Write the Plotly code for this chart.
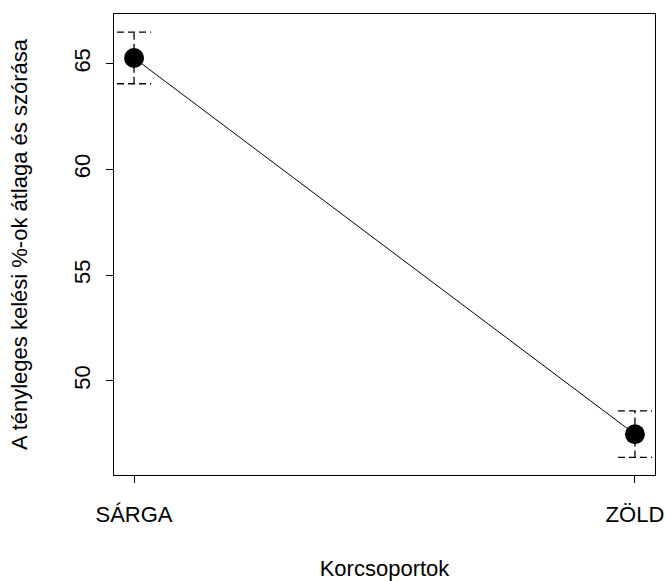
import plotly.graph_objects as go

categories = ["SÁRGA", "ZÖLD"]
means = [65.27, 47.47]
sds = [1.22, 1.10]
y_ticks = [50, 55, 60, 65]

x_pos = list(range(1, len(categories) + 1))
cap_half = 0.034
font_family = "Liberation Sans, Arial, sans-serif"
fs = 22

fig = go.Figure()

# error bars (dashed) built from the data
for xi, m, s in zip(x_pos, means, sds):
    lo, hi = m - s, m + s
    fig.add_trace(go.Scatter(x=[xi, xi], y=[lo, hi], mode="lines",
                             line=dict(color="black", width=1.3, dash="7px,4px"),
                             showlegend=False, hoverinfo="skip"))
    for yy in (lo, hi):
        fig.add_trace(go.Scatter(x=[xi - cap_half, xi + cap_half], y=[yy, yy], mode="lines",
                                 line=dict(color="black", width=1.3, dash="7px,4px"),
                                 showlegend=False, hoverinfo="skip"))

fig.add_trace(go.Scatter(x=x_pos, y=means, mode="lines+markers",
                         line=dict(color="black", width=1),
                         marker=dict(color="black", size=20),
                         showlegend=False))

fig.update_layout(
    width=666, height=581,
    margin=dict(l=114, r=11, t=14, b=106),
    paper_bgcolor="white", plot_bgcolor="white",
    font=dict(family=font_family, size=fs, color="black"),
    xaxis=dict(range=[0.96, 2.04], tickvals=x_pos, ticktext=categories,
               automargin=False,
               showgrid=False, zeroline=False, showline=True, mirror=True,
               linecolor="black", linewidth=1, ticks="outside", ticklen=7,
               tickcolor="black", tickfont=dict(size=fs), ticklabelstandoff=13,
               title=dict(text="Korcsoportok", font=dict(size=fs), standoff=36)),
    yaxis=dict(range=[45.54, 67.35], tickvals=y_ticks,
               automargin=False,
               showgrid=False, zeroline=False, showline=True, mirror=True,
               linecolor="black", linewidth=1, ticks="outside", ticklen=7,
               tickcolor="black", tickangle=-90, tickfont=dict(size=fs),
               ticklabelstandoff=7,
               title=dict(text="A tényleges kelési %-ok átlaga és szórása",
                          font=dict(size=fs), standoff=36)),
)

fig.write_html("out.html",
               config={"displayModeBar": False, "staticPlot": True},
               post_script="document.body.style.margin='0';document.body.style.overflow='hidden';")
